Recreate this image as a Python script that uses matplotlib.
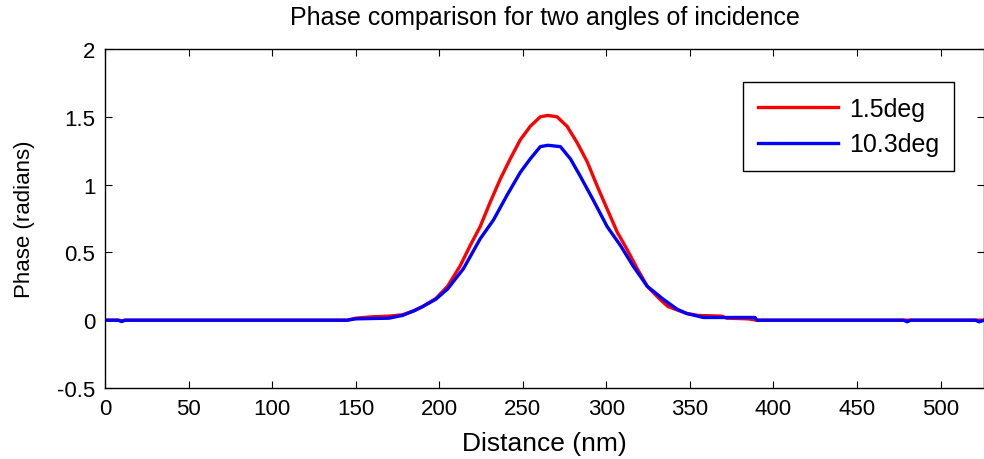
import matplotlib
matplotlib.use("Agg")
import matplotlib.pyplot as plt

plt.rcParams['font.family'] = ['Liberation Sans', 'DejaVu Sans']

# values (distance in nm, phase in radians)
red_x = [0, 8, 10, 12, 145, 150, 160, 170, 178, 185, 190, 198, 205, 212.5,
         218.5, 224.5, 230.5, 236.5, 242.5, 248.5, 254.5, 260.5, 265, 270.5,
         276.5, 282.5, 288.5, 294.5, 300.5, 306.5, 312.5, 318.5, 324.5, 332,
         337, 342.5, 348, 355, 369, 372, 385, 390, 526]
red_y = [0, 0, -0.005, 0, 0, 0.015, 0.025, 0.03, 0.04, 0.07, 0.10, 0.16, 0.25,
         0.40, 0.55, 0.69, 0.87, 1.04, 1.19, 1.33, 1.43, 1.50, 1.51, 1.50,
         1.43, 1.31, 1.17, 0.99, 0.82, 0.65, 0.52, 0.38, 0.25, 0.155,
         0.10, 0.075, 0.05, 0.035, 0.03, 0.015, 0.01, 0.0, 0]

blue_x = [0, 8, 10, 12, 145, 150, 170, 178, 185, 190, 198, 205, 214.5, 224.5,
          232.5, 240.5, 248.5, 254.5, 260.5, 265, 272.5, 278.5, 284.5, 292,
          300.5, 308.5, 316, 324.5, 334, 342.5, 348, 358, 389, 390, 478, 480,
          482, 521, 523, 526]
blue_y = [0, 0, -0.01, 0, 0, 0.01, 0.015, 0.035, 0.07, 0.10, 0.155, 0.23, 0.38,
          0.60, 0.74, 0.92, 1.09, 1.19, 1.28, 1.29, 1.28, 1.19, 1.06, 0.89,
          0.69, 0.55, 0.40, 0.25, 0.155, 0.08, 0.05, 0.02, 0.02, 0.0, 0, -0.012,
          0, 0, -0.012, 0]

labels = ['1.5deg', '10.3deg']
x_ticks = list(range(0, 501, 50))
y_ticks = [-0.5, 0, 0.5, 1, 1.5, 2]

fig = plt.figure(figsize=(9.84, 4.6), dpi=100)
ax = fig.add_axes([105 / 984, 1 - 389 / 460, 1 - 105 / 984, (389 - 50) / 460])

ax.plot(red_x, red_y, color='#ff0000', lw=2.4, label=labels[0])
ax.plot(blue_x, blue_y, color='#0000ff', lw=2.4, label=labels[1])

ax.set_xlim(0, 526)
ax.set_ylim(-0.5, 2)
ax.set_xticks(x_ticks)
ax.set_yticks(y_ticks)
ax.set_yticklabels(['-0.5', '0', '0.5', '1', '1.5', '2'])
ax.tick_params(direction='in', top=True, right=True, length=5, width=0.8,
               labelsize=16)
ax.tick_params(axis='x', pad=7)
ax.tick_params(axis='y', pad=7)
for sp in ax.spines.values():
    sp.set_linewidth(1.0)

ax.set_title('Phase comparison for two angles of incidence', fontsize=18, pad=18)
ax.set_xlabel('Distance (nm)', fontsize=19, labelpad=9)
ax.set_ylabel('Phase (radians)', fontsize=16, labelpad=16)

leg = ax.legend(loc='upper right', bbox_to_anchor=(954 / 984, 1 - 83 / 460),
                bbox_transform=fig.transFigure, borderaxespad=0,
                fontsize=18, frameon=True, fancybox=False, borderpad=0.6,
                handlelength=3.2, handletextpad=0.45, labelspacing=0.45)
leg.get_frame().set_edgecolor('black')
leg.get_frame().set_linewidth(1.0)
leg.get_frame().set_alpha(1)

fig.savefig('out.png', dpi=100)
